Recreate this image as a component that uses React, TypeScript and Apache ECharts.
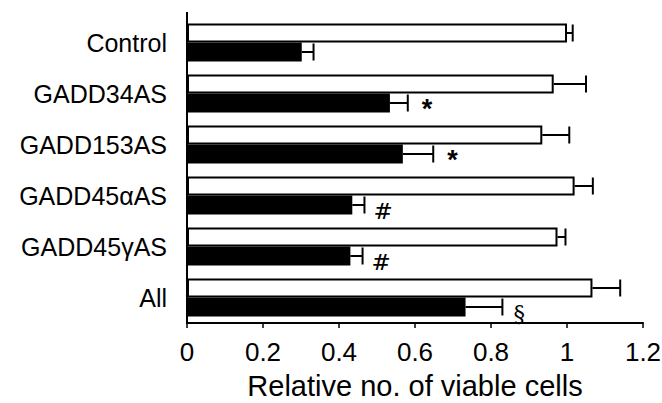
import React, { useEffect, useRef } from "react";
import * as echarts from "echarts";

const categories = ["Control", "GADD34AS", "GADD153AS", "GADD45\u03b1AS", "GADD45\u03b3AS", "All"];
const whiteValues = [1.0, 0.965, 0.935, 1.02, 0.975, 1.067];
const whiteErrors = [1.015, 1.05, 1.006, 1.068, 0.996, 1.14];
const blackValues = [0.302, 0.534, 0.568, 0.435, 0.43, 0.733];
const blackErrors = [0.333, 0.581, 0.648, 0.467, 0.462, 0.83];
const blackMarks = ["", "*", "*", "#", "#", "\u00a7"];
const xTicks = [0, 0.2, 0.4, 0.6, 0.8, 1, 1.2];

const BAR_W = 19;
const FONT = "'Liberation Sans', Arial, Helvetica, sans-serif";

function errSeries(values: number[], errs: number[], marks: string[], sign: number) {
  return {
    type: "custom",
    silent: true,
    z: 5,
    encode: { x: [1, 2], y: 0 },
    data: values.map((v, i) => [i, v, errs[i], marks[i]]),
    renderItem: (params: any, api: any) => {
      const idx = api.value(0);
      const v = api.value(1);
      const e = api.value(2);
      const mark = marks[idx];
      const p0 = api.coord([v, idx]);
      const p1 = api.coord([e, idx]);
      const y = p0[1] + (sign * BAR_W) / 2;
      const half = BAR_W / 2 - 1;
      const children: any[] = [
        { type: "line", shape: { x1: p0[0], y1: y, x2: p1[0], y2: y }, style: { stroke: "#000", lineWidth: 2 } },
        { type: "line", shape: { x1: p1[0], y1: y - half, x2: p1[0], y2: y + half }, style: { stroke: "#000", lineWidth: 2 } },
      ];
      if (mark) {
        const gap = mark === "*" ? 14 : mark === "#" ? 9 : 11;
        children.push({
          type: "text",
          x: p1[0] + gap,
          y: y + 6,
          style: {
            text: mark,
            fill: "#000",
            font: mark === "*" ? `bold 27px ${FONT}` : `23px 'DejaVu Serif', 'Liberation Serif', serif`,
            align: "left",
            verticalAlign: "middle",
          },
        });
      }
      return { type: "group", children };
    },
  };
}

export default function App() {
  const ref = useRef<HTMLDivElement>(null);
  useEffect(() => {
    if (!ref.current) return;
    const chart = echarts.init(ref.current, undefined, { renderer: "svg" });
    chart.setOption({
      animation: false,
      backgroundColor: "#fff",
      grid: { left: 187, right: 19, top: 17, bottom: 80, containLabel: false, outerBoundsMode: "none" },
      graphic: [
        { type: "line", shape: { x1: 187, y1: 12, x2: 187, y2: 18 }, style: { stroke: "#000", lineWidth: 2 } },
      ],
      xAxis: {
        type: "value",
        min: xTicks[0],
        max: xTicks[xTicks.length - 1],
        interval: 0.2,
        name: "Relative no. of viable cells",
        nameLocation: "middle",
        nameGap: 48,
        nameTextStyle: { fontSize: 29, color: "#000", fontFamily: FONT, lineHeight: 30 },
        axisLine: { show: true, lineStyle: { color: "#000", width: 2 } },
        axisTick: { show: true, length: 5, lineStyle: { color: "#000", width: 1.5 } },
        axisLabel: { fontSize: 26, color: "#000", fontFamily: FONT, margin: 16, hideOverlap: false },
        splitLine: { show: false },
      },
      yAxis: {
        type: "category",
        data: categories,
        inverse: true,
        axisLine: { show: true, lineStyle: { color: "#000", width: 2 } },
        axisTick: { show: false },
        axisLabel: { fontSize: 25, color: "#000", fontFamily: FONT, margin: 20 },
        splitLine: { show: false },
      },
      series: [
        {
          type: "bar",
          data: whiteValues,
          barWidth: BAR_W,
          barGap: "0%",
          itemStyle: { color: "#fff", borderColor: "#000", borderWidth: 2 },
        },
        {
          type: "bar",
          data: blackValues,
          barWidth: BAR_W,
          barGap: "0%",
          itemStyle: { color: "#000", borderColor: "#000", borderWidth: 0 },
        },
        errSeries(whiteValues, whiteErrors, ["", "", "", "", "", ""], -1),
        errSeries(blackValues, blackErrors, blackMarks, 1),
      ],
    });
    return () => chart.dispose();
  }, []);
  return <div ref={ref} style={{ position: "absolute", left: 0, top: 0, width: 662, height: 403 }} />;
}
